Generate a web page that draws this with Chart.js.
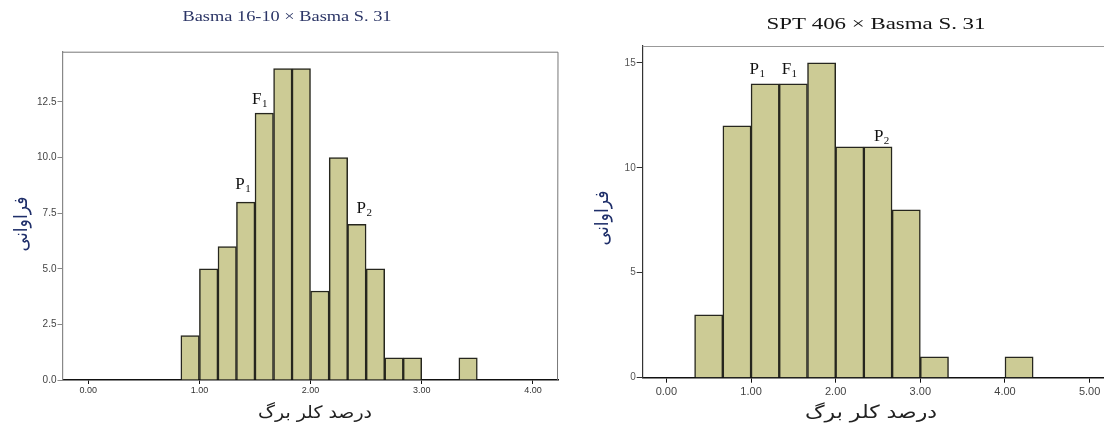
<!DOCTYPE html>
<html>
<head>
<meta charset="utf-8">
<script src="https://cdn.jsdelivr.net/npm/chart.js@4.4.1/dist/chart.umd.min.js"></script>
<style>
  html, body { margin: 0; padding: 0; background: #fff; }
  #wrap { position: relative; width: 1104px; height: 427px; overflow: hidden; }
  canvas { position: absolute; top: 0; }
</style>
</head>
<body>
<div id="wrap">
  <canvas id="left" width="560" height="427" style="left:0"></canvas>
  <canvas id="right" width="544" height="427" style="left:560px"></canvas>
</div>
<script>
// Two histograms of leaf chlorophyll percent (x) vs frequency (y).

// Basma 16-10 x Basma S. 31 — bin lower edges (width 1/6) and counts
const leftBins = [0.833, 1.000, 1.167, 1.333, 1.500, 1.667, 1.833, 2.000,
                  2.167, 2.333, 2.500, 2.667, 2.833, 3.000, 3.167, 3.333];
const leftCounts = [2, 5, 6, 8, 12, 14, 14, 4, 10, 7, 5, 1, 1, 0, 0, 1];
const leftXTicks = [0, 1, 2, 3, 4];
const leftYTicks = [0, 2.5, 5, 7.5, 10, 12.5];

// SPT 406 x Basma S. 31 — bin lower edges (width 1/3) and counts
const rightBins = [0.333, 0.667, 1.000, 1.333, 1.667, 2.000,
                   2.333, 2.667, 3.000, 3.333, 3.667, 4.000];
const rightCounts = [3, 12, 14, 14, 15, 11, 11, 8, 1, 0, 0, 1];
const rightXTicks = [0, 1, 2, 3, 4, 5];
const rightYTicks = [0, 5, 10, 15];

// parent / F1 markers, in data units
const leftMarks = [
  { t: "P", s: "1", x: 1.39, y: 8.86 },
  { t: "F", s: "1", x: 1.54, y: 12.68 },
  { t: "P", s: "2", x: 2.48, y: 7.78 },
];
const rightMarks = [
  { t: "P", s: "1", x: 1.07, y: 14.75 },
  { t: "F", s: "1", x: 1.45, y: 14.75 },
  { t: "P", s: "2", x: 2.54, y: 11.56 },
];

const BAR_FILL = "#cccb95";
const BAR_EDGE = "#26261e";
const SERIF = "'Liberation Serif', 'DejaVu Serif', serif";
const SANS = "'Liberation Sans', Arial, sans-serif";
const ARABIC = "'DejaVu Sans', sans-serif";

// draw text centred at (x, y), squeezed/stretched to a target width
function fitText(ctx, text, x, y, font, color, width, rot = 0) {
  ctx.save();
  ctx.font = font;
  ctx.fillStyle = color;
  ctx.textAlign = "center";
  ctx.textBaseline = "middle";
  ctx.translate(x, y);
  if (rot) ctx.rotate(rot);
  const w = ctx.measureText(text).width;
  if (width) ctx.scale(width / w, 1);
  ctx.fillText(text, 0, 0);
  ctx.restore();
}

function decor(o) {
  return {
    id: "decor",
    afterDraw(chart) {
      const { ctx, chartArea: a, scales } = chart;
      ctx.save();
      ctx.strokeStyle = o.frameColor;
      ctx.lineWidth = 1;
      ctx.beginPath();
      ctx.moveTo(a.left, a.top + 0.5);
      ctx.lineTo(a.right, a.top + 0.5);
      if (o.rightBorder) ctx.lineTo(a.right - 0.5, a.bottom);
      ctx.stroke();
      ctx.restore();

      fitText(ctx, o.title, o.titlePos[0], o.titlePos[1], o.titleFont, o.titleColor, o.titleWidth);
      fitText(ctx, "فراوانی", o.yTitlePos[0], o.yTitlePos[1], o.yTitleFont, "#1f2f6a", o.yTitleLen, -Math.PI / 2);
      fitText(ctx, "درصد کلر برگ", o.xTitlePos[0], o.xTitlePos[1], o.xTitleFont, "#222", o.xTitleWidth);

      ctx.save();
      ctx.fillStyle = "#111";
      ctx.textBaseline = "alphabetic";
      ctx.textAlign = "left";
      for (const m of o.marks) {
        const px = scales.x.getPixelForValue(m.x);
        const py = scales.y.getPixelForValue(m.y);
        ctx.font = `${o.markSize}px ${SERIF}`;
        const w = ctx.measureText(m.t).width;
        ctx.font = `${Math.round(o.markSize * 0.65)}px ${SERIF}`;
        const sw = ctx.measureText(m.s).width;
        const x0 = px - (w + sw) / 2;
        const base = py + o.markSize * 0.33;
        ctx.font = `${o.markSize}px ${SERIF}`;
        ctx.fillText(m.t, x0, base);
        ctx.font = `${Math.round(o.markSize * 0.65)}px ${SERIF}`;
        ctx.fillText(m.s, x0 + w + 0.5, base + o.markSize * 0.22);
      }
      ctx.restore();
    },
  };
}

function histogram(id, o) {
  const data = o.bins.map((lo, i) => ({ x: lo + o.width / 2, y: o.counts[i] }));
  return new Chart(document.getElementById(id), {
    type: "bar",
    data: {
      datasets: [{
        data, backgroundColor: BAR_FILL, borderColor: BAR_EDGE, borderWidth: 1.5,
        barPercentage: 1, categoryPercentage: 1, borderSkipped: "start",
      }],
    },
    options: {
      responsive: false, animation: false, events: [],
      layout: { padding: { left: 0, top: o.area.top, right: o.area.right, bottom: 0 } },
      plugins: { legend: { display: false }, tooltip: { enabled: false } },
      scales: {
        x: {
          type: "linear", min: o.xMin, max: o.xMax, offset: false,
          afterFit: s => { s.height = o.area.below; },
          afterBuildTicks: s => { s.ticks = o.xTicks.map(v => ({ value: v })); },
          ticks: { callback: v => v.toFixed(2), autoSkip: false, maxRotation: 0,
                   font: { family: SANS, size: o.xTickSize }, color: o.xTickColor, padding: o.xTickPad },
          grid: { drawOnChartArea: false, offset: false, tickLength: o.xTickLen, color: "#111", tickWidth: 1 },
          border: { color: "#111", width: 1.5 },
        },
        y: {
          min: 0, max: o.yMax,
          afterFit: s => { s.width = o.area.left; },
          afterBuildTicks: s => { s.ticks = o.yTicks.map(v => ({ value: v })); },
          ticks: { callback: o.yFmt, autoSkip: false,
                   font: { family: SANS, size: o.yTickSize }, color: o.yTickColor, padding: 1 },
          grid: { drawOnChartArea: false, tickLength: o.yTickLen, color: o.yAxisColor, tickWidth: 1 },
          border: { color: o.yAxisColor, width: 1.2 },
        },
      },
    },
    plugins: [decor(o)],
  });
}

histogram("left", {
  bins: leftBins, counts: leftCounts, width: 1 / 6,
  xTicks: leftXTicks, yTicks: leftYTicks, yFmt: v => v.toFixed(1),
  xMin: -0.231, xMax: 4.225, yMax: 14.76,
  area: { left: 62.5, top: 51.7, right: 2, below: 47 },
  xTickSize: 9, xTickColor: "#333", xTickPad: 1, xTickLen: 4,
  yTickSize: 10, yTickColor: "#444", yTickLen: 5, yAxisColor: "#888",
  frameColor: "#777", rightBorder: true,
  title: "Basma 16-10 × Basma S. 31", titlePos: [287, 17], titleFont: `15px ${SERIF}`,
  titleColor: "#2b3566", titleWidth: 209,
  yTitlePos: [22, 224], yTitleFont: `19px ${ARABIC}`, yTitleLen: 55,
  xTitlePos: [315, 414], xTitleFont: `17px ${ARABIC}`, xTitleWidth: 114,
  marks: leftMarks, markSize: 17,
});

histogram("right", {
  bins: rightBins, counts: rightCounts, width: 1 / 3,
  xTicks: rightXTicks, yTicks: rightYTicks, yFmt: v => String(v),
  xMin: -0.28, xMax: 5.17, yMax: 15.8,
  area: { left: 82.7, top: 46, right: 0, below: 49.3 },
  xTickSize: 11, xTickColor: "#444", xTickPad: 3, xTickLen: 5,
  yTickSize: 10, yTickColor: "#555", yTickLen: 6, yAxisColor: "#333",
  frameColor: "#999", rightBorder: false,
  title: "SPT 406 × Basma S. 31", titlePos: [316, 25], titleFont: `17px ${SERIF}`,
  titleColor: "#151515", titleWidth: 219,
  yTitlePos: [43, 218], yTitleFont: `19px ${ARABIC}`, yTitleLen: 55,
  xTitlePos: [311, 413], xTitleFont: `18px ${ARABIC}`, xTitleWidth: 132,
  marks: rightMarks, markSize: 17,
});
</script>
</body>
</html>
